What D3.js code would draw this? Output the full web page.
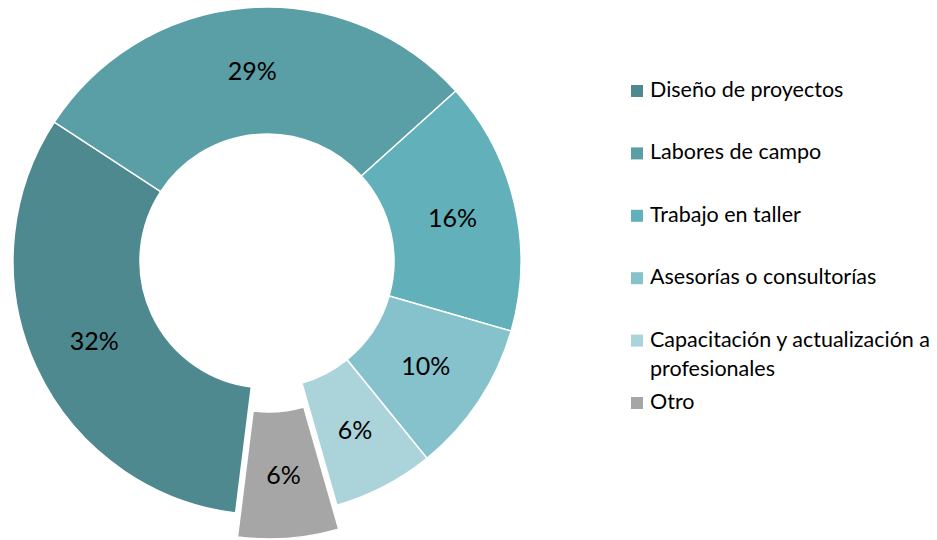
<!DOCTYPE html>
<html>
<head>
<meta charset="utf-8">
<script src="https://cdn.jsdelivr.net/npm/d3@7"></script>
<style>
  body { margin: 0; background: #fff; }
  svg text { font-family: Lato, "Open Sans", sans-serif; }
</style>
</head>
<body>
<svg id="chart" width="937" height="540"></svg>
<script>
// --- Data ---
const categories = [
  "Diseño de proyectos",
  "Labores de campo",
  "Trabajo en taller",
  "Asesorías o consultorías",
  "Capacitación y actualización a profesionales",
  "Otro"
];
const shares = [32.2, 29.1, 16.1, 9.7, 6.4, 6.4];
const colors = ["#4e8990", "#5a9ea6", "#62b0b9", "#85c2cb", "#abd4da", "#a6a6a6"];
const legendLines = [
  ["Diseño de proyectos"],
  ["Labores de campo"],
  ["Trabajo en taller"],
  ["Asesorías o consultorías"],
  ["Capacitación y actualización a", "profesionales"],
  ["Otro"]
];
const exploded = "Otro";

const svg = d3.select("#chart");
const cx = 267, cy = 261;
const outerR = 254, innerR = 127;
const startDeg = 187.1;

const data = categories.map((c, i) => ({ name: c, value: shares[i] }));

const pie = d3.pie()
  .sort(null)
  .value(d => d.value)
  .startAngle(startDeg * Math.PI / 180)
  .endAngle(startDeg * Math.PI / 180 + 2 * Math.PI);

const arc = d3.arc().innerRadius(innerR).outerRadius(outerR);

const color = d3.scaleOrdinal().domain(categories).range(colors);

const g = svg.append("g").attr("transform", `translate(${cx},${cy})`);

// --- Slices ---
const slices = g.selectAll("g.slice")
  .data(pie(data))
  .join("g")
  .attr("class", "slice")
  .attr("transform", d => {
    if (d.data.name !== exploded) return null;
    const a = (d.startAngle + d.endAngle) / 2;
    return `translate(${Math.sin(a) * 24},${-Math.cos(a) * 24})`;
  });

slices.append("path")
  .attr("d", arc)
  .attr("fill", d => color(d.data.name))
  .attr("stroke", "#fff")
  .attr("stroke-width", 1.5);

slices.append("text")
  .attr("transform", d => `translate(${arc.centroid(d)})`)
  .attr("text-anchor", "middle")
  .attr("dy", "0.35em")
  .attr("font-size", 25)
  .attr("fill", "#000")
  .text(d => Math.round(d.data.value) + "%");

// --- Legend ---
const legend = svg.append("g").attr("transform", "translate(631,0)");
const items = legend.selectAll("g.item")
  .data(categories)
  .join("g")
  .attr("class", "item")
  .attr("transform", (_, i) => `translate(0,${97 + i * 62.4})`);

items.append("rect")
  .attr("x", 0)
  .attr("y", -12)
  .attr("width", 12)
  .attr("height", 12)
  .attr("fill", d => color(d));

items.append("text")
  .attr("x", 19)
  .attr("font-size", 21.5)
  .attr("fill", "#000")
  .selectAll("tspan")
  .data((d, i) => legendLines[i])
  .join("tspan")
  .attr("x", 19)
  .attr("dy", (_, j) => j === 0 ? 0 : 29)
  .text(t => t);
</script>
</body>
</html>
